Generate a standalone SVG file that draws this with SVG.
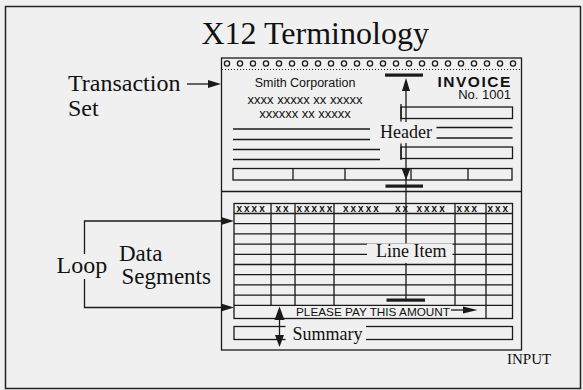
<svg xmlns="http://www.w3.org/2000/svg" width="583" height="390" viewBox="0 0 583 390">
<defs>
<style>
.ln{stroke:#1a1a1a;stroke-width:1.3;fill:none}
.bar{fill:#1a1a1a}
.ah{fill:#1a1a1a}
.gap{fill:#f0f0f0}
.serif{font-family:"Liberation Serif","Times New Roman",serif;fill:#111}
.sans{font-family:"Liberation Sans",Arial,sans-serif;fill:#111}
.hx{font-family:"Liberation Sans",Arial,sans-serif;font-weight:bold;font-size:10px;letter-spacing:2px;fill:#111}
</style>
</defs>
<rect x="0" y="0" width="583" height="390" fill="#f0f0f0"/>
<rect id="frame" x="5.5" y="6.5" width="575" height="382" fill="none" stroke="#222" stroke-width="1.5"/>

<g id="title"><text class="serif" x="201.5" y="44" font-size="32">X12 Terminology</text></g>

<g id="invoice">
<rect class="ln" x="221.5" y="58" width="300" height="292"/>
<g id="holes" class="ln" stroke-width="1">
<circle cx="227" cy="63.5" r="2.6"/><circle cx="240" cy="63.5" r="2.6"/><circle cx="253" cy="63.5" r="2.6"/><circle cx="266" cy="63.5" r="2.6"/><circle cx="279" cy="63.5" r="2.6"/><circle cx="292" cy="63.5" r="2.6"/><circle cx="305" cy="63.5" r="2.6"/><circle cx="318" cy="63.5" r="2.6"/><circle cx="331" cy="63.5" r="2.6"/><circle cx="344" cy="63.5" r="2.6"/><circle cx="357" cy="63.5" r="2.6"/><circle cx="370" cy="63.5" r="2.6"/><circle cx="383" cy="63.5" r="2.6"/><circle cx="396" cy="63.5" r="2.6"/><circle cx="409" cy="63.5" r="2.6"/><circle cx="422" cy="63.5" r="2.6"/><circle cx="435" cy="63.5" r="2.6"/><circle cx="448" cy="63.5" r="2.6"/><circle cx="461" cy="63.5" r="2.6"/><circle cx="474" cy="63.5" r="2.6"/><circle cx="487" cy="63.5" r="2.6"/><circle cx="500" cy="63.5" r="2.6"/><circle cx="513" cy="63.5" r="2.6"/>
</g>
<line x1="222" y1="69.5" x2="521" y2="69.5" stroke="#1a1a1a" stroke-width="1" stroke-dasharray="1 2"/>
<line class="ln" x1="221.5" y1="191.5" x2="521.5" y2="191.5"/>

<g id="header">
<text class="sans" x="305" y="87" font-size="12.5" text-anchor="middle">Smith Corporation</text>
<text class="sans" x="305" y="104" font-size="13" text-anchor="middle">xxxx xxxxx xx xxxxx</text>
<text class="sans" x="305" y="118" font-size="13" text-anchor="middle">xxxxxx xx xxxxx</text>
<text class="sans" x="437.5" y="86.5" font-size="15.5" font-weight="bold" letter-spacing="1.5">INVOICE</text>
<text class="sans" x="511" y="99" font-size="13" text-anchor="end">No. 1001</text>
<path class="ln" d="M233 129H370M233 139.5H370M233 149.5H380M233 159.5H380"/>
<rect class="ln" x="401" y="107" width="111.5" height="11.5"/>
<line class="ln" x1="401" y1="104" x2="401" y2="121.5"/>
<path class="ln" d="M436.5 127.5H512.5M436.5 138H512.5"/>
<rect class="ln" x="401" y="147" width="111.5" height="11.5"/>
<line class="ln" x1="401" y1="143.5" x2="401" y2="160"/>
<rect class="ln" x="233" y="168.5" width="279" height="11.5"/>
<path class="ln" d="M293 168.5V180M345 168.5V180M411 168.5V180M468 168.5V180"/>
</g>

<g id="table">
<rect class="ln" x="234" y="203.5" width="278.5" height="115"/>
<path class="ln" d="M234 213.5H512.5M234 223.7H512.5M234 233.9H512.5M234 244.1H512.5M234 254.3H512.5M234 264.5H512.5M234 274.7H512.5M234 284.9H512.5M234 295.1H512.5M234 305.3H512.5"/>
<path class="ln" d="M271 203.5V305.3M295 203.5V305.3M334 203.5V305.3M455 203.5V305.3M486 203.5V318.5"/>
<text class="hx" x="236.5" y="211.5">xxxx</text>
<text class="hx" x="275.5" y="211.5">xx</text>
<text class="hx" x="296.5" y="211.5">xxxxx</text>
<text class="hx" x="343" y="211.5">xxxxx</text>
<text class="hx" x="395" y="211.5">xx</text>
<text class="hx" x="416.5" y="211.5">xxxx</text>
<text class="hx" x="456.5" y="211.5">xxx</text>
<text class="hx" x="487.5" y="211.5">xxx</text>
<text class="sans" x="296" y="315.5" font-size="11" textLength="154" lengthAdjust="spacingAndGlyphs">PLEASE PAY THIS AMOUNT</text>
<line class="ln" x1="451" y1="310" x2="466" y2="310"/>
<polygon class="ah" points="463,306.5 477.5,310 463,313.5"/>
<rect class="ln" x="234" y="326.5" width="278.5" height="13"/>
</g>
</g>

<g id="connectors">
<line class="ln" x1="406" y1="88" x2="406" y2="300"/>
<rect class="bar" x="385" y="73.5" width="38" height="3.2"/>
<polygon class="ah" points="406,78 402,91 410,91"/>
<polygon class="ah" points="406,180 401.5,168 410.5,168"/>
<rect class="bar" x="385.5" y="184.5" width="37.5" height="3.2"/>
<rect class="bar" x="386.5" y="298.5" width="38.5" height="3.2"/>
<rect class="gap" x="373" y="122" width="62" height="21"/>
<rect class="gap" x="367" y="243.5" width="85.5" height="19.5"/>
<rect class="gap" x="285.5" y="325" width="80.5" height="16"/>
<line class="ln" x1="279.5" y1="318" x2="279.5" y2="336"/>
<polygon class="ah" points="279.5,306.5 274.5,320 284.5,320"/>
<polygon class="ah" points="279.5,347 275,335 284,335"/>
<line class="ln" x1="187" y1="84" x2="210" y2="84"/>
<polygon class="ah" points="221,84 208,80 208,88"/>
<path class="ln" d="M224 221H84.5V254M84.5 279V307.5H224"/>
<polygon class="ah" points="234,221 221,217 221,225"/>
<polygon class="ah" points="234,307.5 221,303.5 221,311.5"/>
</g>

<g id="labels">
<text class="serif" x="380" y="138" font-size="18">Header</text>
<text class="serif" x="376" y="256.5" font-size="18">Line Item</text>
<text class="serif" x="292.5" y="339.5" font-size="18">Summary</text>
<text class="serif" x="68" y="91" font-size="24">Transaction</text>
<text class="serif" x="68" y="116" font-size="24">Set</text>
<text class="serif" x="56.5" y="273" font-size="24">Loop</text>
<text class="serif" x="119" y="261" font-size="23">Data</text>
<text class="serif" x="121.5" y="283.5" font-size="23">Segments</text>
<text class="serif" x="507" y="363.5" font-size="15">INPUT</text>
</g>
</svg>
